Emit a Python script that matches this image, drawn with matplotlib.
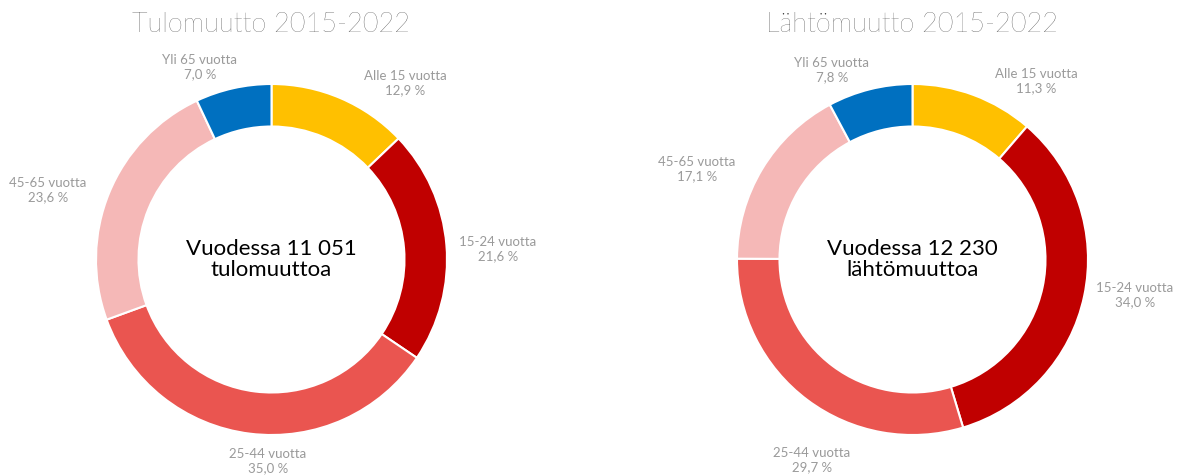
import matplotlib.pyplot as plt

plt.rcParams['font.family'] = ['Lato', 'DejaVu Sans']

groups = ["Alle 15 vuotta", "15-24 vuotta", "25-44 vuotta", "45-65 vuotta", "Yli 65 vuotta"]
colors = ["#FFC000", "#C00000", "#EA5550", "#F5B8B7", "#0070C0"]

tulo = [12.9, 21.6, 35.0, 23.6, 7.0]
lahto = [11.3, 34.0, 29.7, 17.1, 7.8]

titles = ["Tulomuutto 2015-2022", "Lähtömuutto 2015-2022"]
centre_texts = ["Vuodessa 11 051\ntulomuuttoa", "Vuodessa 12 230\nlähtömuuttoa"]

# layout in pixels (y from top)
W, H = 1180, 475
centres = [(271.5, 259.5), (912.5, 259.5)]
R, r = 175.5, 133
label_pos = [
    [(405, 83), (498, 249), (268, 461), (48, 190), (200, 67)],
    [(1036, 81), (1135, 295), (812, 460), (697, 169), (832, 70)],
]

fig = plt.figure(figsize=(W / 100, H / 100), dpi=100)
ax = fig.add_axes([0, 0, 1, 1])

for k, vals in enumerate([tulo, lahto]):
    cx, cy = centres[k]
    ax.pie(vals, colors=colors, startangle=90, counterclock=False,
           center=(cx, H - cy), radius=R,
           wedgeprops=dict(width=R - r, edgecolor="white", linewidth=1.5))
    ax.text(cx, H - 24, titles[k], ha="center", va="center",
            fontsize=19.5, color="#2E2E2E", fontweight="light")
    ax.text(cx, H - cy, centre_texts[k], ha="center", va="center",
            fontsize=16, color="black", linespacing=1.1)
    for g, v, (lx, ly) in zip(groups, vals, label_pos[k]):
        ax.text(lx, H - ly, f"{g}\n{v:.1f} %".replace(".", ","),
                ha="center", va="center", fontsize=9.5, color="#9A9A9A",
                linespacing=1.15)

ax.set_xlim(0, W)
ax.set_ylim(0, H)
ax.set_aspect("equal")
ax.axis("off")

fig.savefig("out.png", dpi=100)
